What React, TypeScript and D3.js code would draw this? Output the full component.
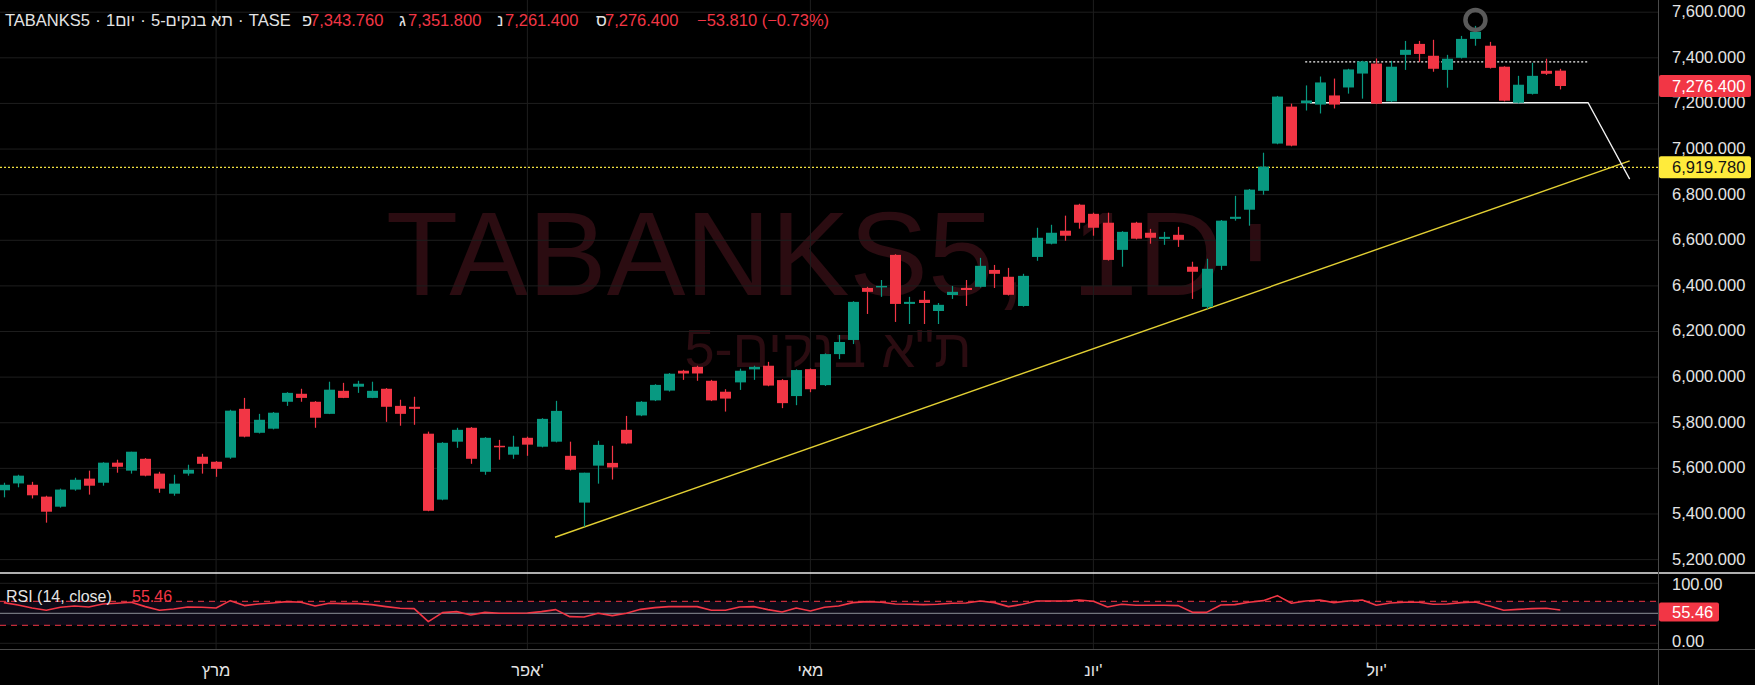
import React, { useEffect, useRef } from 'react';
import * as d3 from 'd3';

const W = 1755;
const H = 685;
const FONT = "'Liberation Sans', Arial, sans-serif";

// ---- Data ----
const opens = [5504, 5534, 5528, 5476, 5432, 5507, 5555, 5537, 5625, 5590, 5642, 5577, 5489, 5577, 5651, 5629, 5647, 5861, 5756, 5774, 5892, 5927, 5892, 5839, 5940, 5958, 5909, 5949, 5874, 5870, 5752, 5463, 5717, 5778, 5585, 5699, 5660, 5734, 5695, 5717, 5655, 5450, 5612, 5624, 5769, 5832, 5898, 5941, 6028, 6045, 5984, 5936, 5977, 6034, 6050, 5987, 5917, 6035, 5965, 6101, 6163, 6391, 6397, 6536, 6321, 6339, 6290, 6360, 6391, 6396, 6470, 6440, 6312, 6527, 6585, 6642, 6756, 6716, 6677, 6558, 6677, 6633, 6606, 6624, 6484, 6308, 6488, 6694, 6734, 6817, 7024, 7186, 7201, 7195, 7235, 7270, 7331, 7375, 7209, 7413, 7461, 7409, 7347, 7400, 7483, 7453, 7361, 7203, 7242, 7343, 7343.76];
const highs = [5537, 5572, 5541, 5480, 5511, 5559, 5590, 5627, 5638, 5673, 5645, 5585, 5572, 5616, 5664, 5632, 5857, 5909, 5839, 5847, 5934, 5949, 5895, 5980, 5975, 5984, 5980, 5952, 5901, 5914, 5761, 5715, 5778, 5781, 5737, 5725, 5743, 5739, 5820, 5896, 5717, 5581, 5721, 5699, 5830, 5895, 5969, 6018, 6032, 6050, 5988, 5947, 6037, 6050, 6067, 5991, 6034, 6038, 6104, 6185, 6333, 6396, 6426, 6539, 6352, 6378, 6325, 6400, 6426, 6523, 6492, 6479, 6453, 6655, 6668, 6708, 6760, 6721, 6721, 6640, 6681, 6650, 6637, 6659, 6506, 6519, 6689, 6795, 6825, 6984, 7233, 7199, 7279, 7318, 7309, 7352, 7387, 7397, 7387, 7474, 7474, 7479, 7413, 7496, 7540, 7470, 7363, 7321, 7378, 7396, 7351.8];
const lows = [5473, 5517, 5468, 5362, 5428, 5502, 5485, 5524, 5581, 5577, 5565, 5493, 5480, 5568, 5577, 5563, 5642, 5736, 5753, 5771, 5874, 5892, 5778, 5838, 5908, 5931, 5908, 5804, 5787, 5791, 5412, 5460, 5690, 5620, 5572, 5638, 5642, 5655, 5692, 5714, 5591, 5344, 5533, 5551, 5706, 5829, 5895, 5937, 5988, 5984, 5895, 5849, 5944, 5988, 5960, 5864, 5877, 5934, 5961, 6079, 6145, 6277, 6352, 6242, 6233, 6233, 6233, 6343, 6312, 6393, 6391, 6358, 6309, 6510, 6582, 6598, 6651, 6620, 6511, 6484, 6604, 6585, 6580, 6571, 6343, 6299, 6470, 6686, 6664, 6800, 7021, 7012, 7169, 7156, 7178, 7243, 7221, 7197, 7206, 7347, 7382, 7339, 7269, 7397, 7453, 7353, 7209, 7200, 7239, 7325, 7261.4];
const closes = [5528, 5568, 5482, 5410, 5507, 5550, 5524, 5625, 5607, 5673, 5568, 5511, 5533, 5594, 5620, 5598, 5853, 5739, 5813, 5844, 5931, 5909, 5822, 5945, 5909, 5971, 5940, 5870, 5839, 5861, 5414, 5712, 5769, 5642, 5734, 5695, 5695, 5704, 5817, 5852, 5594, 5581, 5703, 5604, 5709, 5892, 5966, 6015, 6016, 6016, 5898, 5906, 6028, 6045, 5963, 5886, 6031, 5947, 6101, 6154, 6330, 6374, 6400, 6321, 6330, 6325, 6317, 6374, 6382, 6488, 6453, 6361, 6444, 6611, 6633, 6620, 6677, 6655, 6514, 6637, 6607, 6611, 6615, 6602, 6462, 6475, 6686, 6703, 6822, 6923, 7230, 7015, 7213, 7292, 7195, 7349, 7384, 7199, 7361, 7435, 7417, 7352, 7396, 7483, 7514, 7356, 7212, 7282, 7321, 7330, 7276.4];
const rsiValues = [67.8, 63.9, 58.9, 55.0, 60.0, 62.2, 60.5, 65.5, 66.7, 68.3, 61.1, 55.0, 57.2, 60.5, 60.0, 58.9, 71.1, 62.8, 65.5, 67.2, 69.4, 68.3, 62.2, 66.7, 66.1, 66.1, 64.4, 61.1, 58.3, 57.8, 36.1, 51.1, 52.8, 47.2, 51.6, 50.0, 50.0, 50.5, 52.8, 56.1, 44.4, 43.9, 50.0, 46.1, 50.0, 56.6, 59.4, 61.1, 61.1, 61.1, 55.0, 55.0, 60.5, 61.1, 56.1, 52.2, 58.9, 53.9, 60.0, 62.2, 67.8, 69.4, 68.3, 65.5, 65.0, 64.4, 65.0, 66.7, 67.2, 70.5, 67.8, 61.1, 65.0, 70.5, 70.5, 70.5, 72.2, 70.0, 60.5, 65.0, 63.3, 63.3, 63.3, 62.8, 51.6, 51.6, 63.9, 64.4, 68.3, 71.1, 79.4, 66.7, 70.5, 72.2, 67.8, 70.5, 72.2, 63.3, 67.2, 68.3, 68.3, 65.0, 65.5, 67.8, 68.9, 62.2, 55.0, 56.6, 57.8, 58.3, 55.46];

const priceTicks = [7600, 7400, 7200, 7000, 6800, 6600, 6400, 6200, 6000, 5800, 5600, 5400, 5200];
const rsiTicks = [100, 0];
const rsiBands = [70, 50, 30];
const monthLabels = ['מרץ', "אפר'", 'מאי', "יונ'", "יול'"];
const monthIndex = [15, 37, 57, 77, 97];

const trendLine = [{ i: 38.95, p: 5298 }, { i: 114.9, p: 6948 }];
const whiteLine = [{ i: 92.3, p: 7203 }, { i: 111.96, p: 7203 }, { i: 114.9, p: 6868 }];
const whiteDotted = [{ i: 91.97, p: 7382 }, { i: 111.96, p: 7382 }];
const yellowLevel = 6919.78;
const lastPrice = 7276.4;
const lastRsi = 55.46;
const marker = { i: 104, p: 7566 };

const titleSegments = ['TABANKS5', '1יום', 'תא בנקים-5', 'TASE'];
const ohlcLabels = ['פ', 'ג', 'נ', 'ס'];
const ohlcValues = ['7,343.760', '7,351.800', '7,261.400', '7,276.400'];
const changeText = '−53.810 (−0.73%)';
const watermarkParts = ['TABANKS5,', '1D', 'י'];
const watermarkSub = 'ת"א בנקים-5';

const GREEN = '#089981';
const RED = '#f23645';
const GRID = '#1e1e1e';
const TEXT = '#e4e4e4';
const WM = '#2b0c11';

export default function App() {
  const ref = useRef<SVGSVGElement>(null);

  useEffect(() => {
    document.body.style.margin = '0';
    document.body.style.background = '#000';
    const svg = d3.select(ref.current as SVGSVGElement);
    svg.selectAll('*').remove();

    const axisX = 1658;
    const paneSep = 573;
    const rsiBottom = 649.5;

    const x = d3.scaleLinear().domain([0, 110]).range([3.83, 3.83 + 14.15 * 110]);
    const y = d3.scaleLinear().domain([5200, 7600]).range([559.6, 12.2]);
    const yR = d3.scaleLinear().domain([0, 100]).range([643.3, 583.3]);
    const fmt = d3.format(',.3f');

    svg.append('rect').attr('width', W).attr('height', H).attr('fill', '#000');

    // watermark
    const wmX = [386, 1072, 1240];
    watermarkParts.forEach((s, k) => {
      svg.append('text').attr('x', wmX[k]).attr('y', 295).attr('font-family', FONT)
        .attr('font-size', 118).attr('fill', WM).text(s);
    });
    svg.append('text').attr('x', 828).attr('y', 367).attr('font-family', FONT)
      .attr('font-size', 54).attr('text-anchor', 'middle').attr('fill', WM).text(watermarkSub);

    // grid
    svg.append('g').selectAll('line').data(priceTicks).join('line')
      .attr('x1', 0).attr('x2', axisX).attr('y1', d => y(d)).attr('y2', d => y(d))
      .attr('stroke', GRID).attr('stroke-width', 1);
    svg.append('g').selectAll('line').data(monthIndex).join('line')
      .attr('x1', d => x(d)).attr('x2', d => x(d)).attr('y1', 0).attr('y2', rsiBottom)
      .attr('stroke', GRID).attr('stroke-width', 1);

    // RSI pane
    svg.append('rect').attr('x', 0).attr('width', axisX).attr('y', yR(70)).attr('height', yR(30) - yR(70))
      .attr('fill', '#0e0b18');
    svg.append('g').selectAll('line').data(rsiTicks).join('line')
      .attr('x1', 0).attr('x2', axisX).attr('y1', d => yR(d)).attr('y2', d => yR(d))
      .attr('stroke', GRID);
    svg.append('g').selectAll('line').data(rsiBands).join('line')
      .attr('x1', 0).attr('x2', axisX).attr('y1', d => yR(d)).attr('y2', d => yR(d))
      .attr('stroke', d => (d === 50 ? '#8d8f98' : RED))
      .attr('stroke-dasharray', d => (d === 50 ? null : '6,5'))
      .attr('stroke-width', 1);
    const rsiLine = d3.line<number>().x((_, i) => x(i)).y(d => yR(d));
    svg.append('path').attr('d', rsiLine(rsiValues)).attr('fill', 'none')
      .attr('stroke', RED).attr('stroke-width', 1.6).attr('stroke-linejoin', 'round');

    // drawings
    svg.append('line').attr('x1', 0).attr('x2', axisX).attr('y1', y(yellowLevel)).attr('y2', y(yellowLevel))
      .attr('stroke', '#f0e040').attr('stroke-dasharray', '2,2').attr('stroke-width', 1.2);
    const pl = d3.line<{ i: number; p: number }>().x(d => x(d.i)).y(d => y(d.p));
    svg.append('path').attr('d', pl(trendLine)).attr('fill', 'none').attr('stroke', '#e2cf33').attr('stroke-width', 1.4);
    svg.append('path').attr('d', pl(whiteLine)).attr('fill', 'none').attr('stroke', '#f2f2f2').attr('stroke-width', 1.3);
    svg.append('path').attr('d', pl(whiteDotted)).attr('fill', 'none').attr('stroke', '#f2f2f2')
      .attr('stroke-width', 1.4).attr('stroke-dasharray', '2,2');

    // candles
    const idx = d3.range(closes.length);
    const bodyW = 11;
    const cg = svg.append('g');
    cg.selectAll('line').data(idx).join('line')
      .attr('x1', i => Math.round(x(i)) + 0.5).attr('x2', i => Math.round(x(i)) + 0.5)
      .attr('y1', i => y(highs[i])).attr('y2', i => y(lows[i]))
      .attr('stroke', i => (closes[i] >= opens[i] ? GREEN : RED)).attr('stroke-width', 1.2);
    cg.selectAll('rect').data(idx).join('rect')
      .attr('x', i => Math.round(x(i)) + 0.5 - bodyW / 2).attr('width', bodyW)
      .attr('y', i => y(Math.max(opens[i], closes[i])))
      .attr('height', i => Math.max(1.5, Math.abs(y(opens[i]) - y(closes[i]))))
      .attr('fill', i => (closes[i] >= opens[i] ? GREEN : RED));

    // marker ring
    svg.append('circle').attr('cx', x(marker.i)).attr('cy', y(marker.p)).attr('r', 10)
      .attr('fill', 'none').attr('stroke', '#5a5a5a').attr('stroke-width', 4.5);

    // separators
    svg.append('line').attr('x1', 0).attr('x2', W).attr('y1', paneSep).attr('y2', paneSep)
      .attr('stroke', '#eaeaea').attr('stroke-width', 1.3);
    svg.append('line').attr('x1', 0).attr('x2', W).attr('y1', rsiBottom).attr('y2', rsiBottom)
      .attr('stroke', '#4a4a4a').attr('stroke-width', 1);
    svg.append('line').attr('x1', axisX + 0.5).attr('x2', axisX + 0.5).attr('y1', 0).attr('y2', H)
      .attr('stroke', '#4a4a4a').attr('stroke-width', 1);

    // price axis labels
    const labX = 1672;
    svg.append('g').selectAll('text').data(priceTicks).join('text')
      .attr('x', labX).attr('y', d => y(d) - 1).attr('dy', '0.36em')
      .attr('font-family', FONT).attr('font-size', 16.5).attr('fill', TEXT)
      .text(d => fmt(d));
    svg.append('g').selectAll('text').data(rsiTicks).join('text')
      .attr('x', labX).attr('y', d => (d === 100 ? 584 : 641.5)).attr('dy', '0.36em')
      .attr('font-family', FONT).attr('font-size', 16.5).attr('fill', TEXT)
      .text(d => d3.format('.2f')(d));

    // tags
    const tag = (yc: number, h: number, w: number, fill: string, color: string, txt: string) => {
      svg.append('rect').attr('x', axisX + 1).attr('y', yc - h / 2).attr('width', w).attr('height', h)
        .attr('rx', 2).attr('fill', fill);
      svg.append('text').attr('x', labX).attr('y', yc).attr('dy', '0.36em').attr('font-family', FONT)
        .attr('font-size', 16.5).attr('fill', color).text(txt);
    };
    tag(y(lastPrice), 22, 92, RED, '#ffffff', fmt(lastPrice));
    tag(y(yellowLevel), 22, 92, '#ffeb3b', '#131313', fmt(yellowLevel));
    tag(yR(lastRsi) + 2, 19, 60, RED, '#ffffff', d3.format('.2f')(lastRsi));

    // month labels
    svg.append('g').selectAll('text').data(monthIndex).join('text')
      .attr('x', d => x(d)).attr('y', 676).attr('text-anchor', 'middle')
      .attr('font-family', FONT).attr('font-size', 16.5).attr('fill', TEXT)
      .text((_, k) => monthLabels[k]);

    // RSI legend
    svg.append('text').attr('x', 6).attr('y', 602).attr('font-family', FONT).attr('font-size', 16)
      .attr('fill', TEXT).text('RSI (14, close)');
    svg.append('text').attr('x', 132).attr('y', 602).attr('font-family', FONT).attr('font-size', 16)
      .attr('fill', RED).text(d3.format('.2f')(lastRsi));

    // title
    const tg = svg.append('g').attr('font-family', FONT).attr('font-size', 16.5);
    let cx = 5;
    titleSegments.forEach((s, k) => {
      const t = tg.append('text').attr('x', cx).attr('y', 26).attr('fill', TEXT).text(s);
      const w = (t.node() as SVGTextElement).getComputedTextLength();
      cx += w;
      if (k < titleSegments.length - 1) {
        tg.append('text').attr('x', cx + 8).attr('y', 26).attr('text-anchor', 'middle')
          .attr('fill', TEXT).text('·');
        cx += 16;
      }
    });
    const lblX = [302, 399, 497, 596];
    const valX = [310, 408, 505, 605];
    ohlcLabels.forEach((l, k) => {
      tg.append('text').attr('x', lblX[k]).attr('y', 26).attr('fill', TEXT).text(l);
      tg.append('text').attr('x', valX[k]).attr('y', 26).attr('fill', RED).text(ohlcValues[k]);
    });
    tg.append('text').attr('x', 697).attr('y', 26).attr('fill', RED).text(changeText);
  }, []);

  return (
    <svg ref={ref} width={W} height={H}
      style={{ position: 'absolute', left: 0, top: 0, display: 'block', background: '#000' }} />
  );
}
